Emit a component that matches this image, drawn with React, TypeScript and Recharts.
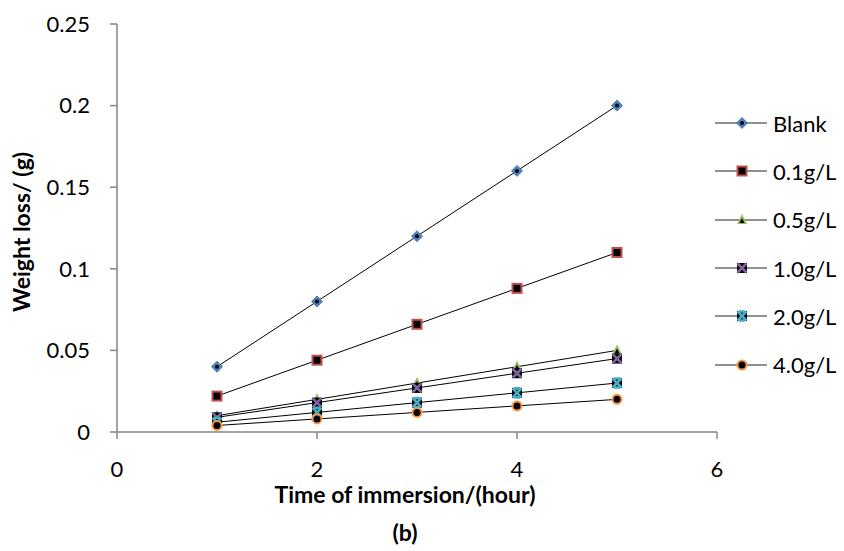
import React from "react";
import { Legend, Line, LineChart, XAxis, YAxis } from "recharts";

// Weight loss vs. immersion time for each inhibitor concentration
const hours = [1, 2, 3, 4, 5];
const blank = [0.04, 0.08, 0.12, 0.16, 0.2];
const conc01 = [0.022, 0.044, 0.066, 0.088, 0.11];
const conc05 = [0.01, 0.02, 0.03, 0.04, 0.05];
const conc10 = [0.009, 0.018, 0.027, 0.036, 0.045];
const conc20 = [0.006, 0.012, 0.018, 0.024, 0.03];
const conc40 = [0.004, 0.008, 0.012, 0.016, 0.02];

const xTicks = [0, 2, 4, 6];
const yTicks = [0, 0.05, 0.1, 0.15, 0.2, 0.25];

const FONT = "Lato, 'Open Sans', sans-serif";
const AXIS_GREY = "#868686";

const chartData = hours.map((h, i) => ({
  hour: h,
  blank: blank[i],
  c01: conc01[i],
  c05: conc05[i],
  c10: conc10[i],
  c20: conc20[i],
  c40: conc40[i],
}));

type MarkerKind = "diamond" | "square" | "triangle" | "cross" | "star" | "circle";

function Marker({ kind, cx, cy }: { kind: MarkerKind; cx: number; cy: number }) {
  switch (kind) {
    case "diamond":
      return (
        <g>
          <polygon
            points={`${cx},${cy - 5.5} ${cx + 5.5},${cy} ${cx},${cy + 5.5} ${cx - 5.5},${cy}`}
            fill="#4F81BD"
            stroke="#3A6BA5"
            strokeWidth={0.8}
          />
          <circle cx={cx} cy={cy} r={2} fill="#000" />
        </g>
      );
    case "square":
      return (
        <rect x={cx - 4.5} y={cy - 4.5} width={9} height={9} fill="#000" stroke="#C0504D" strokeWidth={2} />
      );
    case "triangle":
      return (
        <g>
          <polygon
            points={`${cx},${cy - 6} ${cx + 5},${cy + 4} ${cx - 5},${cy + 4}`}
            fill="#9BBB59"
          />
          <polygon points={`${cx},${cy - 2} ${cx + 2.5},${cy + 3} ${cx - 2.5},${cy + 3}`} fill="#000" />
        </g>
      );
    case "cross":
      return (
        <g>
          <rect x={cx - 5} y={cy - 5} width={10} height={10} fill="#000" />
          <path
            d={`M${cx - 4.5},${cy - 4.5}L${cx + 4.5},${cy + 4.5}M${cx + 4.5},${cy - 4.5}L${cx - 4.5},${cy + 4.5}`}
            stroke="#8064A2"
            strokeWidth={2.6}
          />
        </g>
      );
    case "star":
      return (
        <g>
          <rect x={cx - 5} y={cy - 5} width={10} height={10} fill="#000" />
          <path
            d={`M${cx - 4.5},${cy - 4.5}L${cx + 4.5},${cy + 4.5}M${cx + 4.5},${cy - 4.5}L${cx - 4.5},${cy + 4.5}M${cx - 3},${cy - 4.5}L${cx + 3},${cy - 4.5}M${cx - 3},${cy + 4.5}L${cx + 3},${cy + 4.5}`}
            stroke="#4BACC6"
            strokeWidth={2.6}
          />
        </g>
      );
    default:
      return <circle cx={cx} cy={cy} r={4.5} fill="#000" stroke="#F79646" strokeWidth={2} />;
  }
}

const series: { key: string; name: string; marker: MarkerKind }[] = [
  { key: "blank", name: "Blank", marker: "diamond" },
  { key: "c01", name: "0.1g/L", marker: "square" },
  { key: "c05", name: "0.5g/L", marker: "triangle" },
  { key: "c10", name: "1.0g/L", marker: "cross" },
  { key: "c20", name: "2.0g/L", marker: "star" },
  { key: "c40", name: "4.0g/L", marker: "circle" },
];

function LegendContent() {
  return (
    <div style={{ fontFamily: FONT, fontSize: 22, color: "#000" }}>
      {series.map((s) => (
        <div key={s.key} style={{ display: "flex", alignItems: "center", height: 48.3 }}>
          <svg width={61} height={20} style={{ overflow: "visible" }}>
            <line x1={3} y1={10} x2={55} y2={10} stroke="#222" strokeWidth={1} />
            <Marker kind={s.marker} cx={30} cy={10} />
          </svg>
          <span>{s.name}</span>
        </div>
      ))}
    </div>
  );
}

export default function App() {
  return (
    <div style={{ position: "absolute", left: 0, top: 0, background: "#fff" }}>
      <LineChart
        width={844}
        height={551}
        data={chartData}
        margin={{ top: 24, right: 127, left: 0, bottom: 0 }}
      >
        <XAxis
          dataKey="hour"
          type="number"
          domain={[0, 6]}
          ticks={xTicks}
          height={119}
          stroke={AXIS_GREY}
          strokeWidth={1.5}
          tickSize={7}
          tickMargin={22}
          tick={{ fontSize: 22, fontFamily: FONT, fill: "#000" }}
          label={{
            content: () => (
              <g fontFamily={FONT} fontWeight="bold" fontSize={23} fill="#000" textAnchor="middle">
                <text x={405} y={503}>Time of immersion/(hour)</text>
                <text x={405} y={541}>(b)</text>
              </g>
            ),
          }}
        />
        <YAxis
          type="number"
          domain={[0, 0.25]}
          ticks={yTicks}
          width={117}
          stroke={AXIS_GREY}
          strokeWidth={1.5}
          tickSize={7}
          tickMargin={20}
          tick={{ fontSize: 22, fontFamily: FONT, fill: "#000" }}
          label={{
            content: () => (
              <text
                x={30}
                y={232}
                transform="rotate(-90 30 232)"
                fontFamily={FONT}
                fontWeight="bold"
                fontSize={23}
                fill="#000"
                textAnchor="middle"
              >
                Weight loss/ (g)
              </text>
            ),
          }}
        />
        <Legend
          layout="vertical"
          align="center"
          verticalAlign="middle"
          content={<LegendContent />}
          wrapperStyle={{ position: "absolute", left: 712, top: 99, width: 132 }}
        />
        {series.map((s) => (
          <Line
            key={s.key}
            type="linear"
            dataKey={s.key}
            name={s.name}
            stroke="#000"
            strokeWidth={1}
            isAnimationActive={false}
            dot={(p: any) => <Marker key={`${s.key}-${p.index}`} kind={s.marker} cx={p.cx} cy={p.cy} />}
          />
        ))}
      </LineChart>
    </div>
  );
}
